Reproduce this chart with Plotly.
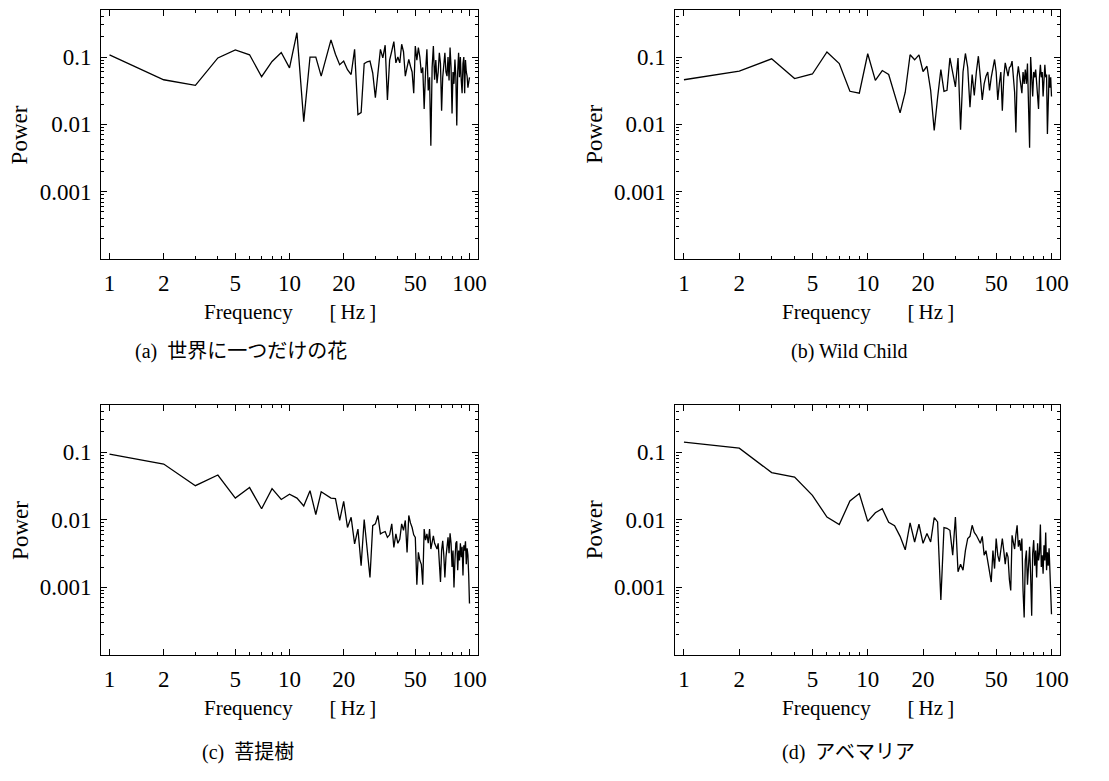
"""
Power spectra of four songs (log-log), 2x2 panels
"""

import plotly.graph_objects as go

# the page body keeps an 8px margin, so the figure is drawn 8px in from the corner
OFF = 8
W, H = 1109 - OFF, 781 - OFF

# frequency grid [Hz]
freq = list(range(1, 101))

# (a) 世界に一つだけの花
power_a = [
    0.108, 0.046, 0.038, 0.097, 0.128, 0.108, 0.051, 0.086, 0.117, 0.069,
    0.23, 0.011, 0.1, 0.1, 0.052, 0.1, 0.18, 0.11, 0.077, 0.087,
    0.065, 0.055, 0.13, 0.014, 0.015, 0.08, 0.085, 0.087, 0.058, 0.025,
    0.058, 0.13, 0.097, 0.15, 0.023, 0.09, 0.123, 0.17, 0.082, 0.1,
    0.082, 0.155, 0.12, 0.052, 0.07, 0.092, 0.073, 0.06, 0.029, 0.146,
    0.09, 0.138, 0.1, 0.058, 0.07, 0.017, 0.06, 0.13, 0.032, 0.05,
    0.0048, 0.07, 0.146, 0.046, 0.09, 0.041, 0.06, 0.116, 0.08, 0.016,
    0.05, 0.09, 0.116, 0.06, 0.052, 0.1, 0.045, 0.138, 0.07, 0.0145,
    0.06, 0.04, 0.092, 0.05, 0.0096, 0.06, 0.116, 0.05, 0.1, 0.045,
    0.029, 0.08, 0.1, 0.029, 0.09, 0.06, 0.052, 0.035, 0.045, 0.05,
]

# (b) Wild Child
power_b = [
    0.046, 0.062, 0.094, 0.048, 0.056, 0.119, 0.08, 0.031, 0.029, 0.112,
    0.045, 0.063, 0.055, 0.028, 0.0148, 0.03, 0.108, 0.091, 0.108, 0.061,
    0.073, 0.032, 0.0081, 0.025, 0.065, 0.031, 0.032, 0.097, 0.06, 0.036,
    0.097, 0.0083, 0.06, 0.113, 0.07, 0.018, 0.055, 0.027, 0.06, 0.103,
    0.05, 0.023, 0.04, 0.052, 0.06, 0.032, 0.05, 0.07, 0.092, 0.06,
    0.023, 0.04, 0.06, 0.016, 0.05, 0.082, 0.06, 0.052, 0.07, 0.073,
    0.087, 0.05, 0.03, 0.0076, 0.05, 0.073, 0.05, 0.034, 0.029, 0.06,
    0.04, 0.065, 0.04, 0.08, 0.02, 0.0045, 0.1, 0.05, 0.026, 0.06,
    0.05, 0.065, 0.04, 0.03, 0.017, 0.05, 0.077, 0.05, 0.06, 0.026,
    0.04, 0.077, 0.05, 0.055, 0.0072, 0.03, 0.055, 0.035, 0.05, 0.026,
]

# (c) 菩提樹
power_c = [
    0.094, 0.067, 0.032, 0.046, 0.021, 0.030, 0.0146, 0.029, 0.020, 0.024,
    0.021, 0.016, 0.027, 0.012, 0.026, 0.023, 0.021, 0.0206, 0.0098, 0.0188,
    0.0077, 0.0109, 0.0044, 0.0073, 0.0021, 0.0101, 0.0037, 0.0014, 0.0082, 0.0087,
    0.0116, 0.0062, 0.0065, 0.0067, 0.0055, 0.006, 0.0087, 0.0039, 0.0062, 0.0045,
    0.0052, 0.0087, 0.0070, 0.0098, 0.0033, 0.0116, 0.009, 0.0077, 0.006, 0.0055,
    0.0011, 0.0033, 0.0025, 0.0022, 0.0011, 0.0073, 0.005, 0.0062, 0.0045, 0.0073,
    0.0037, 0.005, 0.0058, 0.0045, 0.004, 0.0037, 0.0045, 0.0026, 0.0012, 0.0035,
    0.0049, 0.003, 0.0014, 0.0028, 0.0041, 0.0055, 0.0032, 0.0063, 0.0045, 0.002,
    0.0035, 0.001, 0.0025, 0.0045, 0.0048, 0.0018, 0.0035, 0.0025, 0.0045, 0.0028,
    0.004, 0.0015, 0.0042, 0.0035, 0.0048, 0.0022, 0.0038, 0.003, 0.0015, 0.00058,
]

# (d) アベマリア
power_d = [
    0.141, 0.115, 0.05, 0.043, 0.023, 0.011, 0.0085, 0.019, 0.0245, 0.0095,
    0.0127, 0.0146, 0.0092, 0.0082, 0.0057, 0.0036, 0.009, 0.0047, 0.0086, 0.0045,
    0.0063, 0.0047, 0.0108, 0.0093, 0.00065, 0.0077, 0.0075, 0.007, 0.003, 0.011,
    0.0017, 0.0022, 0.0018, 0.0035, 0.0053, 0.0057, 0.0083, 0.0065, 0.0059, 0.005,
    0.0045, 0.0057, 0.003, 0.0035, 0.0024, 0.0018, 0.0012, 0.0035, 0.0019, 0.0053,
    0.003, 0.0024, 0.004, 0.0053, 0.0035, 0.0022, 0.0033, 0.0028, 0.0013, 0.0009,
    0.0059, 0.0045, 0.0037, 0.006, 0.0083, 0.004, 0.005, 0.0035, 0.0053, 0.0009,
    0.00036, 0.0025, 0.0035, 0.0011, 0.0028, 0.004, 0.0015, 0.00038, 0.0032, 0.005,
    0.0021, 0.0035, 0.0014, 0.0045, 0.0025, 0.0032, 0.0085, 0.002, 0.003, 0.0016,
    0.0042, 0.0025, 0.0065, 0.0018, 0.0033, 0.0021, 0.0038, 0.0018, 0.0015, 0.0004,
]

captions = ["(a)  世界に一つだけの花", "(b) Wild Child", "(c)  菩提樹", "(d)  アベマリア"]

x_ticks = [1, 2, 5, 10, 20, 50, 100]
x_minor = [3, 4, 6, 7, 8, 9, 30, 40, 60, 70, 80, 90]
y_ticks = [0.001, 0.01, 0.1]
y_ticktext = ["0.001", "0.01", "0.1"]
y_minor = [2e-4, 3e-4, 4e-4, 5e-4, 6e-4, 7e-4, 8e-4, 9e-4,
           2e-3, 3e-3, 4e-3, 5e-3, 6e-3, 7e-3, 8e-3, 9e-3,
           2e-2, 3e-2, 4e-2, 5e-2, 6e-2, 7e-2, 8e-2, 9e-2,
           0.2, 0.3, 0.4]

SERIF = "Liberation Serif, Times New Roman, serif"
MIXED = "Liberation Serif, Noto Sans CJK JP, serif"

# panel frames in window pixels: (left, right, top, bottom)
frames = [
    (102, 482, 10, 259),
    (681, 1069, 10, 259),
    (102, 482, 405, 655),
    (681, 1069, 405, 655),
]
# caption centres in window pixels
caption_pos = [(243, 352), (856, 352), (250, 752), (855, 752)]


def px(x):
    return (x - OFF) / W


def py(y):
    return 1 - (y - OFF) / H


fig = go.Figure()
annotations = []

for i, (p, cap) in enumerate(zip([power_a, power_b, power_c, power_d], captions)):
    n = "" if i == 0 else str(i + 1)
    left, right, top, bottom = frames[i]

    fig.add_trace(
        go.Scatter(
            x=freq, y=p,
            mode="lines",
            line=dict(color="black", width=1.3),
            xaxis="x" + n, yaxis="y" + n,
            showlegend=False,
        )
    )

    axis_common = dict(
        type="log",
        showline=True, linecolor="black", linewidth=1.2,
        mirror="allticks",
        ticks="inside", ticklen=6, tickcolor="black", tickwidth=1,
        showgrid=False, zeroline=False,
        tickfont=dict(family=SERIF, size=23, color="black"),
    )

    fig.update_layout(**{
        "xaxis" + n: dict(
            axis_common,
            domain=[px(left), px(right)],
            anchor="y" + n,
            range=[-0.046, 2.048],
            tickmode="array", tickvals=x_ticks, ticktext=[str(t) for t in x_ticks],
            minor=dict(ticks="inside", ticklen=3, tickcolor="black", tickvals=x_minor),
            ticklabelstandoff=3,
        ),
        "yaxis" + n: dict(
            axis_common,
            domain=[py(bottom), py(top)],
            anchor="x" + n,
            range=[-4, -0.30103],
            tickmode="array", tickvals=y_ticks, ticktext=y_ticktext,
            minor=dict(ticks="inside", ticklen=3, tickcolor="black", tickvals=y_minor),
            ticklabelstandoff=4,
        ),
    })

    cx = (left + right) / 2
    annotations.append(dict(
        text="Frequency" + "\u00a0" * 7 + "[\u2009Hz\u2009]",
        x=px(cx), y=py(bottom + 53), xref="paper", yref="paper",
        xanchor="center", yanchor="middle", showarrow=False,
        font=dict(family=SERIF, size=21, color="black"),
    ))
    annotations.append(dict(
        text="Power",
        x=px(left - 82), y=py((top + bottom) / 2), xref="paper", yref="paper",
        xanchor="center", yanchor="middle", showarrow=False, textangle=-90,
        font=dict(family=SERIF, size=23, color="black"),
    ))
    annotations.append(dict(
        text=cap,
        x=px(caption_pos[i][0]), y=py(caption_pos[i][1]), xref="paper", yref="paper",
        xanchor="center", yanchor="middle", showarrow=False,
        font=dict(family=MIXED, size=20, color="black"),
    ))

fig.update_layout(
    width=W, height=H,
    margin=dict(l=0, r=0, t=0, b=0),
    paper_bgcolor="white",
    plot_bgcolor="white",
    annotations=annotations,
)

fig.write_html("out.html")
